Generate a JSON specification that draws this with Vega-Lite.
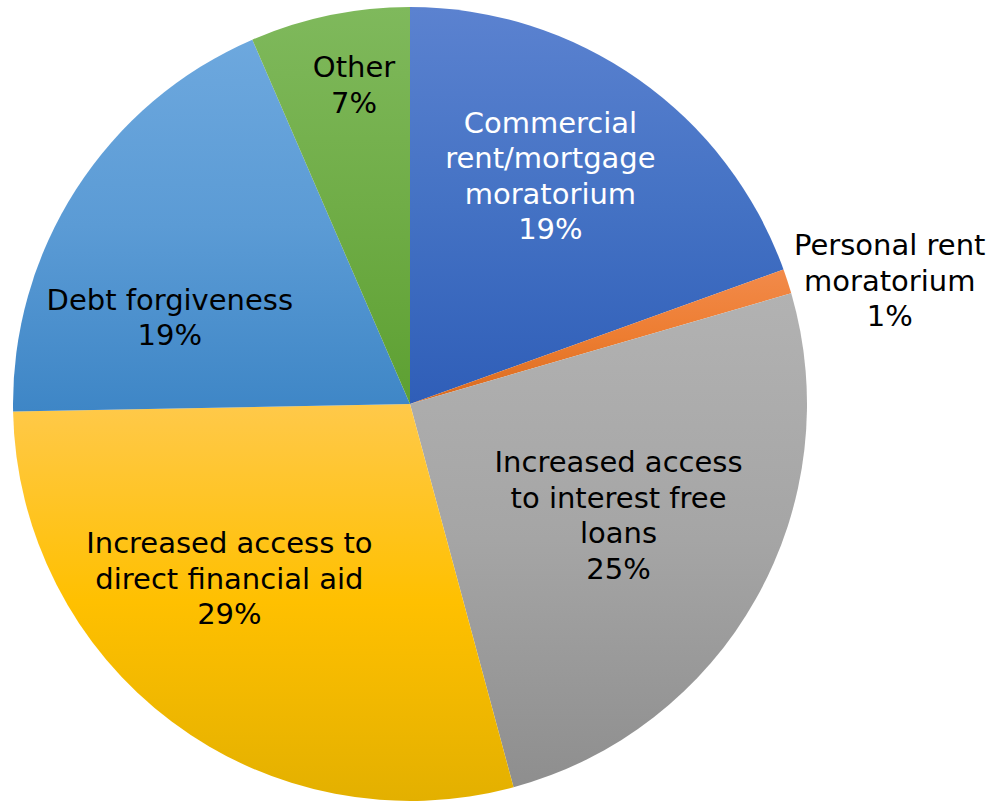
{
  "$schema": "https://vega.github.io/schema/vega-lite/v6.json",
  "width": 820,
  "height": 808,
  "autosize": {"type": "none"},
  "padding": {"left": 0, "top": 0, "right": 168, "bottom": 0},
  "background": "white",
  "view": {"stroke": null},
  "data": {
    "values": [
      {"cat": "Commercial rent/mortgage moratorium", "label": "Commercial\nrent/mortgage\nmoratorium\n19%", "value": 19.5, "rank": 1},
      {"cat": "Personal rent moratorium", "label": "Personal rent\nmoratorium\n1%", "value": 1.0, "rank": 2},
      {"cat": "Increased access to interest free loans", "label": "Increased access\nto interest free\nloans\n25%", "value": 25.3, "rank": 3},
      {"cat": "Increased access to direct financial aid", "label": "Increased access to\ndirect financial aid\n29%", "value": 28.9, "rank": 4},
      {"cat": "Debt forgiveness", "label": "Debt forgiveness\n19%", "value": 18.8, "rank": 5},
      {"cat": "Other", "label": "Other\n7%", "value": 6.5, "rank": 6}
    ]
  },
  "encoding": {
    "theta": {"field": "value", "type": "quantitative", "stack": true},
    "order": {"field": "rank", "type": "quantitative"}
  },
  "layer": [
    {
      "mark": {"type": "arc", "outerRadius": 397, "stroke": null},
      "encoding": {
        "fill": {
          "condition": [
            {"test": "datum.cat == 'Commercial rent/mortgage moratorium'", "value": {"gradient": "linear", "x1": 0, "y1": 0, "x2": 0, "y2": 1, "stops": [{"offset": 0, "color": "#5B82D0"}, {"offset": 0.5, "color": "#4472C4"}, {"offset": 1, "color": "#2F5EB8"}]}},
            {"test": "datum.cat == 'Personal rent moratorium'", "value": {"gradient": "linear", "x1": 0, "y1": 0, "x2": 0, "y2": 1, "stops": [{"offset": 0, "color": "#F28A4A"}, {"offset": 0.5, "color": "#ED7D31"}, {"offset": 1, "color": "#D86A1E"}]}},
            {"test": "datum.cat == 'Increased access to interest free loans'", "value": {"gradient": "linear", "x1": 0, "y1": 0, "x2": 0, "y2": 1, "stops": [{"offset": 0, "color": "#B2B2B2"}, {"offset": 0.5, "color": "#A5A5A5"}, {"offset": 1, "color": "#8E8E8E"}]}},
            {"test": "datum.cat == 'Increased access to direct financial aid'", "value": {"gradient": "linear", "x1": 0, "y1": 0, "x2": 0, "y2": 1, "stops": [{"offset": 0, "color": "#FFC94A"}, {"offset": 0.5, "color": "#FFC000"}, {"offset": 1, "color": "#E3B000"}]}},
            {"test": "datum.cat == 'Debt forgiveness'", "value": {"gradient": "linear", "x1": 0, "y1": 0, "x2": 0, "y2": 1, "stops": [{"offset": 0, "color": "#6DA8DE"}, {"offset": 0.5, "color": "#5B9BD5"}, {"offset": 1, "color": "#3E86C6"}]}}
          ],
          "value": {"gradient": "linear", "x1": 0, "y1": 0, "x2": 0, "y2": 1, "stops": [{"offset": 0, "color": "#7FB95C"}, {"offset": 0.5, "color": "#70AD47"}, {"offset": 1, "color": "#5DA032"}]}
        }
      }
    },
    {
      "mark": {"type": "text", "radius": 267, "thetaOffset": -0.059, "dy": -53.25, "font": "DejaVu Sans", "fontSize": 29, "lineHeight": 35.5, "lineBreak": "\n", "align": "center", "baseline": "middle", "color": "white"},
      "encoding": {"text": {"condition": {"test": "datum.rank == 1", "field": "label"}, "value": ""}}
    },
    {
      "mark": {"type": "text", "radius": 495, "thetaOffset": 0.065, "dy": -35.5, "font": "DejaVu Sans", "fontSize": 29, "lineHeight": 35.5, "lineBreak": "\n", "align": "center", "baseline": "middle", "color": "black"},
      "encoding": {"text": {"condition": {"test": "datum.rank == 2", "field": "label"}, "value": ""}}
    },
    {
      "mark": {"type": "text", "radius": 237, "thetaOffset": -0.017, "dy": -53.25, "font": "DejaVu Sans", "fontSize": 29, "lineHeight": 35.5, "lineBreak": "\n", "align": "center", "baseline": "middle", "color": "black"},
      "encoding": {"text": {"condition": {"test": "datum.rank == 3", "field": "label"}, "value": ""}}
    },
    {
      "mark": {"type": "text", "radius": 252, "thetaOffset": 0.155, "dy": -35.5, "font": "DejaVu Sans", "fontSize": 29, "lineHeight": 35.5, "lineBreak": "\n", "align": "center", "baseline": "middle", "color": "black"},
      "encoding": {"text": {"condition": {"test": "datum.rank == 4", "field": "label"}, "value": ""}}
    },
    {
      "mark": {"type": "text", "radius": 255, "thetaOffset": -0.229, "dy": -17.75, "font": "DejaVu Sans", "fontSize": 29, "lineHeight": 35.5, "lineBreak": "\n", "align": "center", "baseline": "middle", "color": "black"},
      "encoding": {"text": {"condition": {"test": "datum.rank == 5", "field": "label"}, "value": ""}}
    },
    {
      "mark": {"type": "text", "radius": 323, "thetaOffset": 0.03, "dy": -17.75, "font": "DejaVu Sans", "fontSize": 29, "lineHeight": 35.5, "lineBreak": "\n", "align": "center", "baseline": "middle", "color": "black"},
      "encoding": {"text": {"condition": {"test": "datum.rank == 6", "field": "label"}, "value": ""}}
    }
  ]
}
